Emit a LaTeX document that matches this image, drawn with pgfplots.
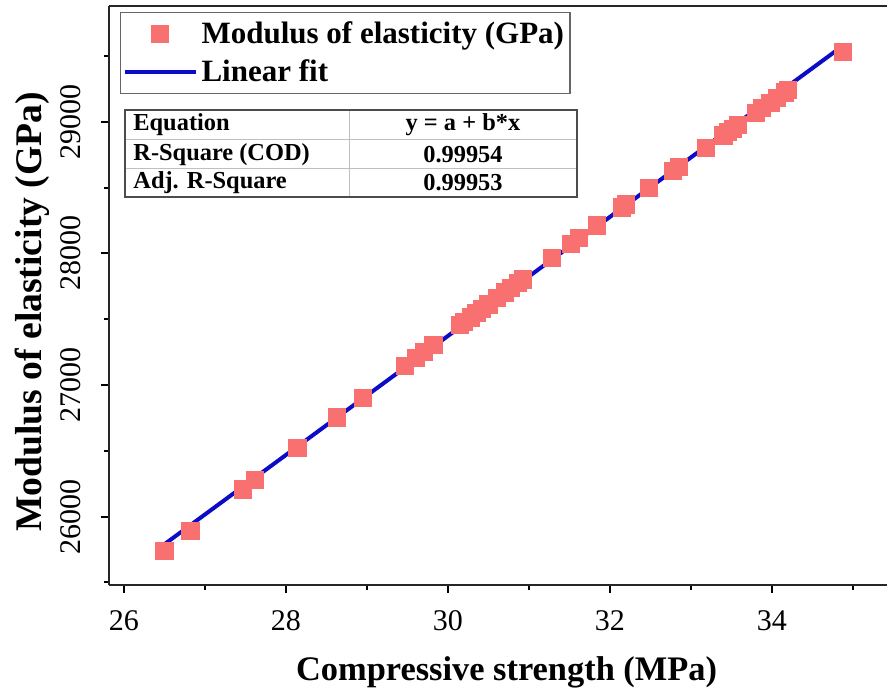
\documentclass[border=0pt]{standalone}
\usepackage{fontspec}
\setmainfont{Liberation Serif}
\usepackage{pgfplots}
\usepackage{pgfplotstable}
\pgfplotsset{compat=1.18}
\definecolor{ptred}{RGB}{248,112,112}
\definecolor{fitblue}{RGB}{12,12,200}

\pgfplotsset{
  markleg/.style={legend image code/.code={\draw[mark repeat=2,mark phase=2,##1] plot coordinates {(0pt,0pt) (17.75pt,0pt) (35.5pt,0pt)};}},
  lineleg/.style={legend image code/.code={\draw[##1] (0pt,0pt) -- (35.5pt,0pt);}},
}

\pgfplotstableread{
x      y
26.50  25739
26.82  25894
27.47  26206
27.62  26277
28.14  26524
28.63  26753
28.95  26903
29.47  27143
29.60  27203
29.70  27249
29.82  27304
30.15  27455
30.20  27477
30.28  27514
30.35  27545
30.42  27577
30.50  27613
30.60  27659
30.70  27704
30.78  27740
30.86  27776
30.92  27803
31.28  27964
31.52  28071
31.62  28116
31.84  28213
32.15  28350
32.20  28373
32.48  28496
32.78  28627
32.85  28657
33.18  28801
33.40  28896
33.46  28922
33.52  28948
33.58  28974
33.80  29069
33.88  29103
33.98  29146
34.06  29180
34.16  29223
34.20  29240
34.88  29530
}\elastic

\begin{document}
\begin{tikzpicture}
\begin{axis}[
  name=ax,
  scale only axis,
  width=389pt, height=289.5pt,
  xmin=25.815, xmax=35.42,
  ymin=25480, ymax=29880,
  axis x line*=box, axis y line*=left,
  axis line style={black!85, line width=1pt},
  xtick={26,28,30,32,34},
  minor xtick={27,29,31,33,35},
  ytick={26000,27000,28000,29000},
  minor ytick={25500,26500,27500,28500,29500},
  scaled y ticks=false,
  xtick pos=bottom, ytick pos=left,
  tick align=outside,
  major tick length=4pt, minor tick length=2.5pt,
  every tick/.style={black, line width=1pt},
  /pgf/number format/assume math mode=true,
  /pgf/number format/1000 sep={},
  tick label style={font=\rmfamily\fontsize{15}{17}\selectfont},
  yticklabel style={rotate=90, anchor=center},
  xticklabel style={anchor=center},
  xticklabel shift=14pt,
  yticklabel shift=15pt,
  xlabel={\textbf{Compressive strength (MPa)}},
  ylabel={\textbf{Modulus of elasticity (GPa)}},
  xlabel style={font=\fontsize{17.2}{20}\selectfont, at={(axis description cs:0.511,-0.1503)}, anchor=center},
  ylabel style={font=\fontsize{18.8}{21}\selectfont, at={(axis description cs:-0.099,0.4715)}, anchor=center},
  legend style={
    at={(axis description cs:0.0141,0.9896)}, anchor=north west,
    draw=black!60, line width=0.6pt,
    font=\bfseries\fontsize{15.5}{18}\selectfont,
    inner xsep=1pt, inner ysep=2.5pt,
    row sep=2.5pt,
    /tikz/every even column/.append style={column sep=4pt},
  },
  legend cell align=left,
]
\addplot[ptred, only marks, mark=square*, mark size=4.3pt,
  mark options={fill=ptred, draw=ptred}, markleg
] table[x=x, y=y] {\elastic};
\addlegendentry{Modulus of elasticity (GPa)}

\addplot[fitblue, line width=2pt, mark=none, lineleg]
  coordinates {(26.50,25790) (34.88,29580)};
\addlegendentry{Linear fit}

% statistics table
\draw[black!25, line width=0.5pt]
  (axis description cs:0.02057,0.7686) -- (axis description cs:0.6015,0.7686)
  (axis description cs:0.02057,0.7185) -- (axis description cs:0.6015,0.7185)
  (axis description cs:0.3085,0.8204) -- (axis description cs:0.3085,0.6701);
\draw[black!70, line width=0.6pt]
  (axis description cs:0.02057,0.6701) rectangle (axis description cs:0.6015,0.8204);
\begin{scope}[every node/.style={font=\bfseries\fontsize{12.2}{14}\selectfont, inner sep=0pt}]
\node[anchor=west] at (axis description cs:0.03085,0.7945) {Equation};
\node[anchor=west] at (axis description cs:0.03085,0.7435) {R-Square (COD)};
\node[anchor=west] at (axis description cs:0.03085,0.6943) {Adj. R-Square};
\node at (axis description cs:0.4550,0.7945) {y = a + b*x};
\node at (axis description cs:0.4550,0.7435) {0.99954};
\node at (axis description cs:0.4550,0.6943) {0.99953};
\end{scope}
\end{axis}
\pgfresetboundingbox
\path[use as bounding box] ([xshift=-54.5pt,yshift=-54.5pt]ax.south west) rectangle ([yshift=3pt]ax.north east);
\end{tikzpicture}
\end{document}
